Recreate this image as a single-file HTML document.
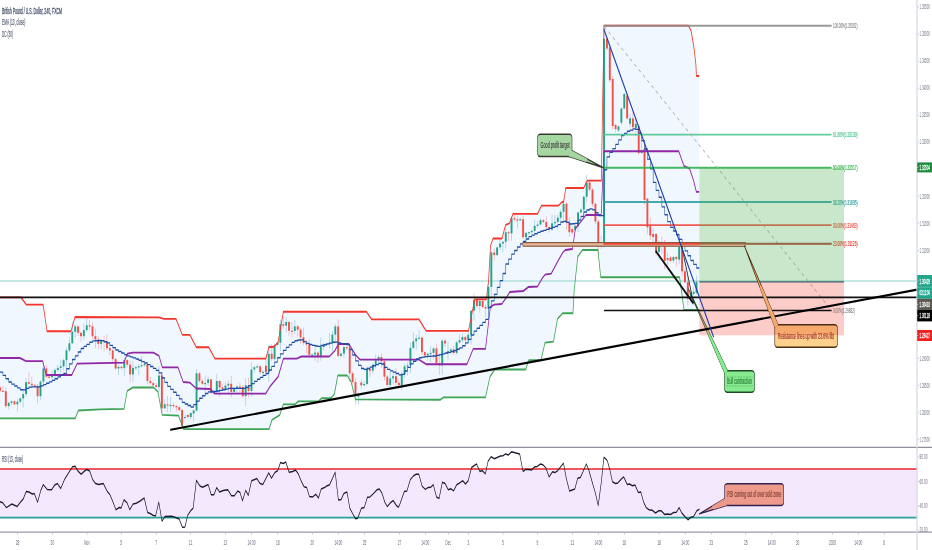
<!DOCTYPE html>
<html lang="en"><head><meta charset="utf-8"><title>GBPUSD chart</title>
<style>html,body{margin:0;padding:0;background:#fff;overflow:hidden}svg text{white-space:pre}</style></head>
<body>
<svg width="932" height="550" viewBox="0 0 932 550" style="display:block;font-family:'Liberation Sans',sans-serif">
<rect width="932" height="550" fill="#fff"/>
<defs><linearGradient id="og" x1="0" y1="0" x2="0" y2="1"><stop offset="0.47" stop-color="#f5a96d"/><stop offset="0.47" stop-color="#fdd08c"/></linearGradient></defs>
<g transform="scale(0.4,1)">
<polygon points="0.0,297.4 52.5,297.4 65.8,304.6 108.0,304.6 117.5,331.2 177.5,331.2 187.5,317.0 397.5,317.3 410.0,318.8 440.0,318.8 456.0,334.9 475.0,334.9 490.8,347.2 521.8,347.2 537.2,358.6 664.5,358.6 672.5,347.0 683.8,347.0 695.0,342.6 708.5,311.7 916.0,311.7 929.2,319.4 1047.5,319.4 1065.0,330.8 1171.2,330.8 1186.8,299.3 1216.0,299.3 1221.5,280.0 1226.2,246.0 1232.5,238.5 1255.0,238.5 1264.0,224.8 1273.5,223.3 1282.5,213.8 1344.0,213.8 1353.5,205.6 1396.2,205.6 1405.0,202.0 1409.0,202.0 1414.5,188.0 1459.2,188.0 1468.0,180.6 1503.2,180.6 1510.0,25.6 1720.8,25.6 1727.5,30.5 1734.2,45.5 1739.8,64.6 1741.0,76.0 1748.0,76.0 1748.8,309.9 1710.0,309.9 1699.0,277.2 1501.8,277.2 1494.8,250.0 1456.2,250.0 1444.5,256.6 1435.5,290.0 1432.5,313.2 1406.8,313.2 1393.8,318.8 1383.8,341.7 1362.5,342.6 1352.5,360.2 1322.0,360.2 1314.2,369.5 1237.0,369.5 1225.0,376.6 1213.8,397.3 1109.0,397.3 1101.2,399.7 888.8,399.4 877.8,382.0 868.0,375.5 844.5,375.5 836.0,394.0 827.5,398.2 804.0,398.2 796.2,401.3 745.8,401.3 737.5,404.4 708.5,404.4 699.2,415.2 680.0,419.8 672.5,429.1 458.8,429.1 446.2,415.6 405.5,414.8 394.8,391.9 383.8,387.5 332.0,387.5 318.2,390.8 310.0,408.8 250.0,409.3 195.8,410.5 188.2,418.3 0.0,418.3" fill="#f0f7fe" />
<line x1="0.00" y1="281.00" x2="2293.00" y2="281.00" stroke="#b2dfd8" stroke-width="1.6" />
<line x1="0.07" y1="385.56" x2="0.07" y2="392.00" stroke="#f2b1bd" stroke-width="1.9" />
<rect x="-2.30" y="387.50" width="4.75" height="3.30" fill="#f0504a" />
<line x1="7.30" y1="385.99" x2="7.30" y2="392.25" stroke="#f2b1bd" stroke-width="1.9" />
<rect x="4.92" y="390.80" width="4.75" height="1.20" fill="#f0504a" />
<line x1="14.53" y1="387.62" x2="14.53" y2="408.30" stroke="#f2b1bd" stroke-width="1.9" />
<rect x="12.15" y="391.20" width="4.75" height="14.90" fill="#f0504a" />
<line x1="21.75" y1="401.77" x2="21.75" y2="409.42" stroke="#a8cde9" stroke-width="1.9" />
<rect x="19.37" y="402.80" width="4.75" height="3.30" fill="#26a387" />
<line x1="28.98" y1="400.29" x2="28.98" y2="405.49" stroke="#a8cde9" stroke-width="1.9" />
<rect x="26.60" y="401.30" width="4.75" height="1.50" fill="#26a387" />
<line x1="36.20" y1="400.26" x2="36.20" y2="405.37" stroke="#f2b1bd" stroke-width="1.9" />
<rect x="33.83" y="401.30" width="4.75" height="3.00" fill="#f0504a" />
<line x1="43.43" y1="399.08" x2="43.43" y2="411.45" stroke="#a8cde9" stroke-width="1.9" />
<rect x="41.05" y="401.70" width="4.75" height="2.60" fill="#26a387" />
<line x1="50.65" y1="397.26" x2="50.65" y2="403.15" stroke="#a8cde9" stroke-width="1.9" />
<rect x="48.28" y="398.40" width="4.75" height="3.30" fill="#26a387" />
<line x1="57.88" y1="389.56" x2="57.88" y2="407.48" stroke="#a8cde9" stroke-width="1.9" />
<rect x="55.50" y="394.10" width="4.75" height="4.30" fill="#26a387" />
<line x1="65.10" y1="378.10" x2="65.10" y2="396.52" stroke="#a8cde9" stroke-width="1.9" />
<rect x="62.73" y="382.10" width="4.75" height="12.00" fill="#26a387" />
<line x1="72.33" y1="372.52" x2="72.33" y2="384.82" stroke="#f2b1bd" stroke-width="1.9" />
<rect x="69.95" y="382.10" width="4.75" height="1.70" fill="#f0504a" />
<line x1="79.55" y1="376.17" x2="79.55" y2="387.05" stroke="#f2b1bd" stroke-width="1.9" />
<rect x="77.18" y="383.80" width="4.75" height="1.50" fill="#f0504a" />
<line x1="86.78" y1="384.11" x2="86.78" y2="386.92" stroke="#f2b1bd" stroke-width="1.9" />
<rect x="84.40" y="385.30" width="4.75" height="1.20" fill="#f0504a" />
<line x1="94.00" y1="383.94" x2="94.00" y2="403.19" stroke="#f2b1bd" stroke-width="1.9" />
<rect x="91.62" y="385.80" width="4.75" height="10.40" fill="#f0504a" />
<line x1="101.23" y1="380.31" x2="101.23" y2="400.24" stroke="#a8cde9" stroke-width="1.9" />
<rect x="98.85" y="381.60" width="4.75" height="14.60" fill="#26a387" />
<line x1="108.45" y1="363.83" x2="108.45" y2="383.85" stroke="#a8cde9" stroke-width="1.9" />
<rect x="106.08" y="368.50" width="4.75" height="13.10" fill="#26a387" />
<line x1="115.68" y1="364.80" x2="115.68" y2="377.64" stroke="#f2b1bd" stroke-width="1.9" />
<rect x="113.30" y="368.50" width="4.75" height="8.10" fill="#f0504a" />
<line x1="122.90" y1="375.57" x2="122.90" y2="378.58" stroke="#f2b1bd" stroke-width="1.9" />
<rect x="120.53" y="376.60" width="4.75" height="1.20" fill="#f0504a" />
<line x1="130.12" y1="370.33" x2="130.12" y2="379.85" stroke="#a8cde9" stroke-width="1.9" />
<rect x="127.75" y="375.50" width="4.75" height="1.70" fill="#26a387" />
<line x1="137.35" y1="368.11" x2="137.35" y2="379.59" stroke="#a8cde9" stroke-width="1.9" />
<rect x="134.97" y="370.00" width="4.75" height="5.50" fill="#26a387" />
<line x1="144.58" y1="365.05" x2="144.58" y2="371.81" stroke="#a8cde9" stroke-width="1.9" />
<rect x="142.20" y="367.90" width="4.75" height="2.10" fill="#26a387" />
<line x1="151.80" y1="359.62" x2="151.80" y2="373.30" stroke="#a8cde9" stroke-width="1.9" />
<rect x="149.43" y="366.30" width="4.75" height="1.60" fill="#26a387" />
<line x1="159.03" y1="358.66" x2="159.03" y2="370.27" stroke="#a8cde9" stroke-width="1.9" />
<rect x="156.65" y="360.20" width="4.75" height="6.10" fill="#26a387" />
<line x1="166.25" y1="346.92" x2="166.25" y2="368.09" stroke="#a8cde9" stroke-width="1.9" />
<rect x="163.88" y="350.40" width="4.75" height="9.80" fill="#26a387" />
<line x1="173.47" y1="337.41" x2="173.47" y2="352.15" stroke="#a8cde9" stroke-width="1.9" />
<rect x="171.10" y="343.20" width="4.75" height="7.20" fill="#26a387" />
<line x1="180.70" y1="322.15" x2="180.70" y2="344.33" stroke="#a8cde9" stroke-width="1.9" />
<rect x="178.32" y="331.80" width="4.75" height="11.40" fill="#26a387" />
<line x1="187.93" y1="323.83" x2="187.93" y2="337.96" stroke="#a8cde9" stroke-width="1.9" />
<rect x="185.55" y="326.40" width="4.75" height="5.40" fill="#26a387" />
<line x1="195.15" y1="325.19" x2="195.15" y2="336.05" stroke="#f2b1bd" stroke-width="1.9" />
<rect x="192.78" y="326.40" width="4.75" height="6.50" fill="#f0504a" />
<line x1="202.38" y1="331.89" x2="202.38" y2="341.22" stroke="#f2b1bd" stroke-width="1.9" />
<rect x="200.00" y="332.90" width="4.75" height="3.30" fill="#f0504a" />
<line x1="209.60" y1="323.84" x2="209.60" y2="340.16" stroke="#a8cde9" stroke-width="1.9" />
<rect x="207.22" y="330.10" width="4.75" height="6.10" fill="#26a387" />
<line x1="216.83" y1="317.40" x2="216.83" y2="331.99" stroke="#a8cde9" stroke-width="1.9" />
<rect x="214.45" y="325.30" width="4.75" height="4.80" fill="#26a387" />
<line x1="224.05" y1="319.95" x2="224.05" y2="330.58" stroke="#f2b1bd" stroke-width="1.9" />
<rect x="221.68" y="325.30" width="4.75" height="1.20" fill="#f0504a" />
<line x1="231.28" y1="322.37" x2="231.28" y2="339.07" stroke="#f2b1bd" stroke-width="1.9" />
<rect x="228.90" y="326.40" width="4.75" height="9.80" fill="#f0504a" />
<line x1="238.50" y1="328.85" x2="238.50" y2="348.53" stroke="#f2b1bd" stroke-width="1.9" />
<rect x="236.12" y="336.20" width="4.75" height="3.30" fill="#f0504a" />
<line x1="245.73" y1="336.48" x2="245.73" y2="348.97" stroke="#f2b1bd" stroke-width="1.9" />
<rect x="243.35" y="339.50" width="4.75" height="4.50" fill="#f0504a" />
<line x1="252.95" y1="339.57" x2="252.95" y2="349.43" stroke="#a8cde9" stroke-width="1.9" />
<rect x="250.58" y="340.60" width="4.75" height="3.40" fill="#26a387" />
<line x1="260.18" y1="335.83" x2="260.18" y2="351.58" stroke="#f2b1bd" stroke-width="1.9" />
<rect x="257.80" y="340.60" width="4.75" height="1.20" fill="#f0504a" />
<line x1="267.40" y1="334.62" x2="267.40" y2="349.93" stroke="#f2b1bd" stroke-width="1.9" />
<rect x="265.03" y="341.70" width="4.75" height="6.50" fill="#f0504a" />
<line x1="274.62" y1="345.86" x2="274.62" y2="355.42" stroke="#f2b1bd" stroke-width="1.9" />
<rect x="272.25" y="348.20" width="4.75" height="2.20" fill="#f0504a" />
<line x1="281.85" y1="349.40" x2="281.85" y2="362.02" stroke="#f2b1bd" stroke-width="1.9" />
<rect x="279.48" y="350.40" width="4.75" height="8.70" fill="#f0504a" />
<line x1="289.08" y1="357.85" x2="289.08" y2="369.62" stroke="#f2b1bd" stroke-width="1.9" />
<rect x="286.70" y="359.10" width="4.75" height="9.40" fill="#f0504a" />
<line x1="296.30" y1="365.77" x2="296.30" y2="374.81" stroke="#a8cde9" stroke-width="1.9" />
<rect x="293.93" y="366.80" width="4.75" height="1.70" fill="#26a387" />
<line x1="303.53" y1="365.65" x2="303.53" y2="369.65" stroke="#f2b1bd" stroke-width="1.9" />
<rect x="301.15" y="366.80" width="4.75" height="1.30" fill="#f0504a" />
<line x1="310.75" y1="357.82" x2="310.75" y2="375.93" stroke="#a8cde9" stroke-width="1.9" />
<rect x="308.38" y="360.20" width="4.75" height="7.90" fill="#26a387" />
<line x1="317.98" y1="359.14" x2="317.98" y2="367.42" stroke="#f2b1bd" stroke-width="1.9" />
<rect x="315.60" y="360.20" width="4.75" height="4.40" fill="#f0504a" />
<line x1="325.20" y1="360.88" x2="325.20" y2="382.42" stroke="#f2b1bd" stroke-width="1.9" />
<rect x="322.83" y="364.60" width="4.75" height="9.80" fill="#f0504a" />
<line x1="332.43" y1="360.86" x2="332.43" y2="382.12" stroke="#a8cde9" stroke-width="1.9" />
<rect x="330.05" y="367.90" width="4.75" height="6.50" fill="#26a387" />
<line x1="339.65" y1="365.50" x2="339.65" y2="370.45" stroke="#a8cde9" stroke-width="1.9" />
<rect x="337.28" y="367.20" width="4.75" height="1.20" fill="#26a387" />
<line x1="346.88" y1="364.14" x2="346.88" y2="375.24" stroke="#a8cde9" stroke-width="1.9" />
<rect x="344.50" y="366.30" width="4.75" height="1.20" fill="#26a387" />
<line x1="354.10" y1="355.94" x2="354.10" y2="367.50" stroke="#a8cde9" stroke-width="1.9" />
<rect x="351.73" y="365.20" width="4.75" height="1.20" fill="#26a387" />
<line x1="361.32" y1="362.82" x2="361.32" y2="366.68" stroke="#a8cde9" stroke-width="1.9" />
<rect x="358.95" y="364.10" width="4.75" height="1.20" fill="#26a387" />
<line x1="368.55" y1="362.61" x2="368.55" y2="384.12" stroke="#f2b1bd" stroke-width="1.9" />
<rect x="366.18" y="364.10" width="4.75" height="16.90" fill="#f0504a" />
<line x1="375.77" y1="376.88" x2="375.77" y2="384.72" stroke="#f2b1bd" stroke-width="1.9" />
<rect x="373.40" y="381.00" width="4.75" height="2.10" fill="#f0504a" />
<line x1="383.00" y1="382.10" x2="383.00" y2="387.88" stroke="#f2b1bd" stroke-width="1.9" />
<rect x="380.63" y="383.10" width="4.75" height="2.20" fill="#f0504a" />
<line x1="390.23" y1="383.07" x2="390.23" y2="390.79" stroke="#f2b1bd" stroke-width="1.9" />
<rect x="387.85" y="385.30" width="4.75" height="1.60" fill="#f0504a" />
<line x1="397.45" y1="366.32" x2="397.45" y2="392.19" stroke="#a8cde9" stroke-width="1.9" />
<rect x="395.08" y="375.50" width="4.75" height="11.40" fill="#26a387" />
<line x1="404.68" y1="372.11" x2="404.68" y2="412.73" stroke="#f2b1bd" stroke-width="1.9" />
<rect x="402.30" y="375.50" width="4.75" height="32.80" fill="#f0504a" />
<line x1="411.90" y1="399.18" x2="411.90" y2="409.33" stroke="#a8cde9" stroke-width="1.9" />
<rect x="409.53" y="404.30" width="4.75" height="4.00" fill="#26a387" />
<line x1="419.12" y1="396.02" x2="419.12" y2="411.68" stroke="#f2b1bd" stroke-width="1.9" />
<rect x="416.75" y="404.30" width="4.75" height="1.20" fill="#f0504a" />
<line x1="426.35" y1="397.12" x2="426.35" y2="411.93" stroke="#a8cde9" stroke-width="1.9" />
<rect x="423.98" y="405.00" width="4.75" height="1.20" fill="#26a387" />
<line x1="433.58" y1="402.61" x2="433.58" y2="408.53" stroke="#f2b1bd" stroke-width="1.9" />
<rect x="431.20" y="405.00" width="4.75" height="1.20" fill="#f0504a" />
<line x1="440.80" y1="405.00" x2="440.80" y2="411.82" stroke="#f2b1bd" stroke-width="1.9" />
<rect x="438.43" y="406.10" width="4.75" height="1.20" fill="#f0504a" />
<line x1="448.03" y1="406.17" x2="448.03" y2="411.04" stroke="#f2b1bd" stroke-width="1.9" />
<rect x="445.65" y="407.20" width="4.75" height="2.80" fill="#f0504a" />
<line x1="455.25" y1="408.61" x2="455.25" y2="427.24" stroke="#f2b1bd" stroke-width="1.9" />
<rect x="452.88" y="410.00" width="4.75" height="16.00" fill="#f0504a" />
<line x1="462.48" y1="414.96" x2="462.48" y2="418.02" stroke="#a8cde9" stroke-width="1.9" />
<rect x="460.10" y="417.00" width="4.75" height="1.20" fill="#26a387" />
<line x1="469.70" y1="414.00" x2="469.70" y2="418.21" stroke="#f2b1bd" stroke-width="1.9" />
<rect x="467.33" y="415.00" width="4.75" height="2.00" fill="#f0504a" />
<line x1="476.93" y1="411.91" x2="476.93" y2="419.19" stroke="#a8cde9" stroke-width="1.9" />
<rect x="474.55" y="413.00" width="4.75" height="4.00" fill="#26a387" />
<line x1="484.15" y1="409.49" x2="484.15" y2="421.38" stroke="#a8cde9" stroke-width="1.9" />
<rect x="481.78" y="410.50" width="4.75" height="3.00" fill="#26a387" />
<line x1="491.38" y1="368.91" x2="491.38" y2="411.70" stroke="#a8cde9" stroke-width="1.9" />
<rect x="489.00" y="373.30" width="4.75" height="37.20" fill="#26a387" />
<line x1="498.60" y1="371.73" x2="498.60" y2="383.09" stroke="#f2b1bd" stroke-width="1.9" />
<rect x="496.23" y="373.30" width="4.75" height="7.70" fill="#f0504a" />
<line x1="505.83" y1="378.81" x2="505.83" y2="384.94" stroke="#f2b1bd" stroke-width="1.9" />
<rect x="503.45" y="381.00" width="4.75" height="2.80" fill="#f0504a" />
<line x1="513.05" y1="375.51" x2="513.05" y2="393.68" stroke="#a8cde9" stroke-width="1.9" />
<rect x="510.68" y="383.00" width="4.75" height="1.20" fill="#26a387" />
<line x1="520.28" y1="376.45" x2="520.28" y2="386.11" stroke="#a8cde9" stroke-width="1.9" />
<rect x="517.90" y="379.40" width="4.75" height="3.60" fill="#26a387" />
<line x1="527.50" y1="378.33" x2="527.50" y2="394.09" stroke="#f2b1bd" stroke-width="1.9" />
<rect x="525.12" y="379.40" width="4.75" height="13.60" fill="#f0504a" />
<line x1="534.73" y1="389.94" x2="534.73" y2="394.63" stroke="#a8cde9" stroke-width="1.9" />
<rect x="532.35" y="392.00" width="4.75" height="1.20" fill="#26a387" />
<line x1="541.95" y1="373.82" x2="541.95" y2="393.23" stroke="#a8cde9" stroke-width="1.9" />
<rect x="539.58" y="381.00" width="4.75" height="11.00" fill="#26a387" />
<line x1="549.18" y1="380.00" x2="549.18" y2="396.64" stroke="#f2b1bd" stroke-width="1.9" />
<rect x="546.80" y="381.00" width="4.75" height="6.50" fill="#f0504a" />
<line x1="556.40" y1="383.99" x2="556.40" y2="390.19" stroke="#f2b1bd" stroke-width="1.9" />
<rect x="554.03" y="387.50" width="4.75" height="1.50" fill="#f0504a" />
<line x1="563.62" y1="381.84" x2="563.62" y2="390.01" stroke="#a8cde9" stroke-width="1.9" />
<rect x="561.25" y="385.50" width="4.75" height="3.50" fill="#26a387" />
<line x1="570.85" y1="380.29" x2="570.85" y2="395.12" stroke="#a8cde9" stroke-width="1.9" />
<rect x="568.48" y="383.80" width="4.75" height="1.70" fill="#26a387" />
<line x1="578.08" y1="376.09" x2="578.08" y2="397.26" stroke="#f2b1bd" stroke-width="1.9" />
<rect x="575.70" y="383.80" width="4.75" height="8.10" fill="#f0504a" />
<line x1="585.30" y1="386.89" x2="585.30" y2="394.11" stroke="#a8cde9" stroke-width="1.9" />
<rect x="582.93" y="388.50" width="4.75" height="3.40" fill="#26a387" />
<line x1="592.53" y1="385.25" x2="592.53" y2="394.86" stroke="#a8cde9" stroke-width="1.9" />
<rect x="590.15" y="386.50" width="4.75" height="2.00" fill="#26a387" />
<line x1="599.75" y1="382.95" x2="599.75" y2="393.46" stroke="#f2b1bd" stroke-width="1.9" />
<rect x="597.38" y="386.50" width="4.75" height="1.20" fill="#f0504a" />
<line x1="606.98" y1="385.02" x2="606.98" y2="397.65" stroke="#f2b1bd" stroke-width="1.9" />
<rect x="604.60" y="387.00" width="4.75" height="9.20" fill="#f0504a" />
<line x1="614.20" y1="378.37" x2="614.20" y2="405.93" stroke="#a8cde9" stroke-width="1.9" />
<rect x="611.83" y="385.30" width="4.75" height="10.90" fill="#26a387" />
<line x1="621.43" y1="377.76" x2="621.43" y2="397.65" stroke="#f2b1bd" stroke-width="1.9" />
<rect x="619.05" y="385.30" width="4.75" height="5.50" fill="#f0504a" />
<line x1="628.65" y1="362.37" x2="628.65" y2="396.73" stroke="#a8cde9" stroke-width="1.9" />
<rect x="626.28" y="369.40" width="4.75" height="21.40" fill="#26a387" />
<line x1="635.88" y1="365.74" x2="635.88" y2="372.81" stroke="#a8cde9" stroke-width="1.9" />
<rect x="633.50" y="367.20" width="4.75" height="2.20" fill="#26a387" />
<line x1="643.10" y1="364.16" x2="643.10" y2="368.21" stroke="#a8cde9" stroke-width="1.9" />
<rect x="640.73" y="366.30" width="4.75" height="1.20" fill="#26a387" />
<line x1="650.33" y1="365.29" x2="650.33" y2="373.90" stroke="#f2b1bd" stroke-width="1.9" />
<rect x="647.95" y="366.30" width="4.75" height="5.90" fill="#f0504a" />
<line x1="657.55" y1="370.20" x2="657.55" y2="377.52" stroke="#a8cde9" stroke-width="1.9" />
<rect x="655.17" y="371.80" width="4.75" height="1.20" fill="#26a387" />
<line x1="664.77" y1="356.47" x2="664.77" y2="375.00" stroke="#f2b1bd" stroke-width="1.9" />
<rect x="662.40" y="365.70" width="4.75" height="6.50" fill="#f0504a" />
<line x1="672.00" y1="344.80" x2="672.00" y2="381.99" stroke="#a8cde9" stroke-width="1.9" />
<rect x="669.62" y="353.70" width="4.75" height="18.50" fill="#26a387" />
<line x1="679.23" y1="344.49" x2="679.23" y2="361.30" stroke="#f2b1bd" stroke-width="1.9" />
<rect x="676.85" y="353.70" width="4.75" height="5.40" fill="#f0504a" />
<line x1="686.45" y1="343.56" x2="686.45" y2="360.56" stroke="#a8cde9" stroke-width="1.9" />
<rect x="684.08" y="345.00" width="4.75" height="14.10" fill="#26a387" />
<line x1="693.67" y1="341.45" x2="693.67" y2="346.38" stroke="#a8cde9" stroke-width="1.9" />
<rect x="691.30" y="342.80" width="4.75" height="2.20" fill="#26a387" />
<line x1="700.90" y1="319.69" x2="700.90" y2="351.09" stroke="#a8cde9" stroke-width="1.9" />
<rect x="698.52" y="324.20" width="4.75" height="18.60" fill="#26a387" />
<line x1="708.12" y1="316.84" x2="708.12" y2="328.77" stroke="#f2b1bd" stroke-width="1.9" />
<rect x="705.75" y="324.20" width="4.75" height="1.50" fill="#f0504a" />
<line x1="715.35" y1="317.16" x2="715.35" y2="332.45" stroke="#a8cde9" stroke-width="1.9" />
<rect x="712.98" y="322.00" width="4.75" height="3.70" fill="#26a387" />
<line x1="722.57" y1="320.94" x2="722.57" y2="335.63" stroke="#f2b1bd" stroke-width="1.9" />
<rect x="720.20" y="322.00" width="4.75" height="8.70" fill="#f0504a" />
<line x1="729.80" y1="322.25" x2="729.80" y2="337.51" stroke="#f2b1bd" stroke-width="1.9" />
<rect x="727.42" y="330.70" width="4.75" height="1.20" fill="#f0504a" />
<line x1="737.02" y1="320.34" x2="737.02" y2="334.06" stroke="#a8cde9" stroke-width="1.9" />
<rect x="734.65" y="326.40" width="4.75" height="4.60" fill="#26a387" />
<line x1="744.25" y1="325.11" x2="744.25" y2="336.30" stroke="#f2b1bd" stroke-width="1.9" />
<rect x="741.88" y="326.40" width="4.75" height="3.30" fill="#f0504a" />
<line x1="751.47" y1="327.70" x2="751.47" y2="344.07" stroke="#f2b1bd" stroke-width="1.9" />
<rect x="749.10" y="329.70" width="4.75" height="7.60" fill="#f0504a" />
<line x1="758.70" y1="327.80" x2="758.70" y2="345.21" stroke="#f2b1bd" stroke-width="1.9" />
<rect x="756.32" y="337.30" width="4.75" height="5.50" fill="#f0504a" />
<line x1="765.92" y1="340.35" x2="765.92" y2="353.57" stroke="#f2b1bd" stroke-width="1.9" />
<rect x="763.55" y="342.80" width="4.75" height="1.70" fill="#f0504a" />
<line x1="773.15" y1="338.77" x2="773.15" y2="356.06" stroke="#f2b1bd" stroke-width="1.9" />
<rect x="770.77" y="344.50" width="4.75" height="10.30" fill="#f0504a" />
<line x1="780.38" y1="353.35" x2="780.38" y2="356.01" stroke="#a8cde9" stroke-width="1.9" />
<rect x="778.00" y="354.50" width="4.75" height="1.20" fill="#26a387" />
<line x1="787.60" y1="344.23" x2="787.60" y2="361.35" stroke="#a8cde9" stroke-width="1.9" />
<rect x="785.22" y="352.60" width="4.75" height="1.90" fill="#26a387" />
<line x1="794.83" y1="351.41" x2="794.83" y2="363.05" stroke="#f2b1bd" stroke-width="1.9" />
<rect x="792.45" y="352.60" width="4.75" height="3.30" fill="#f0504a" />
<line x1="802.05" y1="337.45" x2="802.05" y2="360.79" stroke="#a8cde9" stroke-width="1.9" />
<rect x="799.67" y="347.10" width="4.75" height="8.80" fill="#26a387" />
<line x1="809.27" y1="342.89" x2="809.27" y2="350.81" stroke="#a8cde9" stroke-width="1.9" />
<rect x="806.90" y="345.00" width="4.75" height="2.10" fill="#26a387" />
<line x1="816.50" y1="342.65" x2="816.50" y2="346.00" stroke="#a8cde9" stroke-width="1.9" />
<rect x="814.12" y="343.80" width="4.75" height="1.20" fill="#26a387" />
<line x1="823.73" y1="333.32" x2="823.73" y2="348.60" stroke="#a8cde9" stroke-width="1.9" />
<rect x="821.35" y="342.80" width="4.75" height="1.20" fill="#26a387" />
<line x1="830.95" y1="331.00" x2="830.95" y2="351.64" stroke="#a8cde9" stroke-width="1.9" />
<rect x="828.58" y="334.50" width="4.75" height="8.30" fill="#26a387" />
<line x1="838.17" y1="323.71" x2="838.17" y2="342.34" stroke="#a8cde9" stroke-width="1.9" />
<rect x="835.80" y="326.40" width="4.75" height="8.10" fill="#26a387" />
<line x1="845.40" y1="319.26" x2="845.40" y2="357.30" stroke="#f2b1bd" stroke-width="1.9" />
<rect x="843.02" y="326.40" width="4.75" height="29.50" fill="#f0504a" />
<line x1="852.62" y1="352.13" x2="852.62" y2="357.67" stroke="#a8cde9" stroke-width="1.9" />
<rect x="850.25" y="353.70" width="4.75" height="2.20" fill="#26a387" />
<line x1="859.85" y1="345.58" x2="859.85" y2="357.80" stroke="#a8cde9" stroke-width="1.9" />
<rect x="857.48" y="347.10" width="4.75" height="6.60" fill="#26a387" />
<line x1="867.07" y1="345.49" x2="867.07" y2="350.78" stroke="#f2b1bd" stroke-width="1.9" />
<rect x="864.70" y="347.10" width="4.75" height="1.20" fill="#f0504a" />
<line x1="874.30" y1="347.05" x2="874.30" y2="381.75" stroke="#f2b1bd" stroke-width="1.9" />
<rect x="871.92" y="348.20" width="4.75" height="25.10" fill="#f0504a" />
<line x1="881.53" y1="371.17" x2="881.53" y2="384.99" stroke="#f2b1bd" stroke-width="1.9" />
<rect x="879.15" y="373.30" width="4.75" height="8.80" fill="#f0504a" />
<line x1="888.75" y1="378.04" x2="888.75" y2="404.56" stroke="#f2b1bd" stroke-width="1.9" />
<rect x="886.38" y="382.10" width="4.75" height="14.10" fill="#f0504a" />
<line x1="895.97" y1="392.91" x2="895.97" y2="404.58" stroke="#a8cde9" stroke-width="1.9" />
<rect x="893.60" y="395.50" width="4.75" height="1.20" fill="#26a387" />
<line x1="903.20" y1="379.24" x2="903.20" y2="388.85" stroke="#f2b1bd" stroke-width="1.9" />
<rect x="900.82" y="382.50" width="4.75" height="2.80" fill="#f0504a" />
<line x1="910.43" y1="380.53" x2="910.43" y2="386.30" stroke="#a8cde9" stroke-width="1.9" />
<rect x="908.05" y="384.00" width="4.75" height="1.30" fill="#26a387" />
<line x1="917.65" y1="366.26" x2="917.65" y2="385.30" stroke="#a8cde9" stroke-width="1.9" />
<rect x="915.28" y="369.00" width="4.75" height="15.00" fill="#26a387" />
<line x1="924.88" y1="368.00" x2="924.88" y2="377.45" stroke="#f2b1bd" stroke-width="1.9" />
<rect x="922.50" y="369.00" width="4.75" height="1.70" fill="#f0504a" />
<line x1="932.10" y1="363.33" x2="932.10" y2="373.72" stroke="#a8cde9" stroke-width="1.9" />
<rect x="929.72" y="364.60" width="4.75" height="6.10" fill="#26a387" />
<line x1="939.32" y1="354.47" x2="939.32" y2="368.39" stroke="#a8cde9" stroke-width="1.9" />
<rect x="936.95" y="360.20" width="4.75" height="4.40" fill="#26a387" />
<line x1="946.55" y1="355.04" x2="946.55" y2="363.62" stroke="#a8cde9" stroke-width="1.9" />
<rect x="944.18" y="357.00" width="4.75" height="3.20" fill="#26a387" />
<line x1="953.77" y1="353.22" x2="953.77" y2="367.84" stroke="#f2b1bd" stroke-width="1.9" />
<rect x="951.40" y="357.00" width="4.75" height="4.30" fill="#f0504a" />
<line x1="961.00" y1="360.20" x2="961.00" y2="380.43" stroke="#f2b1bd" stroke-width="1.9" />
<rect x="958.62" y="361.30" width="4.75" height="15.30" fill="#f0504a" />
<line x1="968.22" y1="375.04" x2="968.22" y2="386.69" stroke="#f2b1bd" stroke-width="1.9" />
<rect x="965.85" y="376.60" width="4.75" height="8.40" fill="#f0504a" />
<line x1="975.45" y1="372.03" x2="975.45" y2="388.32" stroke="#a8cde9" stroke-width="1.9" />
<rect x="973.08" y="378.40" width="4.75" height="6.60" fill="#26a387" />
<line x1="982.67" y1="372.36" x2="982.67" y2="384.60" stroke="#a8cde9" stroke-width="1.9" />
<rect x="980.30" y="376.20" width="4.75" height="2.20" fill="#26a387" />
<line x1="989.90" y1="367.71" x2="989.90" y2="385.57" stroke="#f2b1bd" stroke-width="1.9" />
<rect x="987.52" y="376.20" width="4.75" height="6.60" fill="#f0504a" />
<line x1="997.12" y1="378.42" x2="997.12" y2="388.30" stroke="#f2b1bd" stroke-width="1.9" />
<rect x="994.75" y="382.80" width="4.75" height="2.20" fill="#f0504a" />
<line x1="1004.35" y1="370.74" x2="1004.35" y2="390.32" stroke="#a8cde9" stroke-width="1.9" />
<rect x="1001.98" y="374.10" width="4.75" height="10.90" fill="#26a387" />
<line x1="1011.58" y1="363.56" x2="1011.58" y2="377.66" stroke="#a8cde9" stroke-width="1.9" />
<rect x="1009.20" y="366.40" width="4.75" height="7.70" fill="#26a387" />
<line x1="1018.80" y1="362.24" x2="1018.80" y2="375.38" stroke="#a8cde9" stroke-width="1.9" />
<rect x="1016.42" y="365.30" width="4.75" height="1.20" fill="#26a387" />
<line x1="1026.02" y1="342.50" x2="1026.02" y2="373.21" stroke="#a8cde9" stroke-width="1.9" />
<rect x="1023.65" y="347.90" width="4.75" height="17.40" fill="#26a387" />
<line x1="1033.25" y1="332.31" x2="1033.25" y2="349.51" stroke="#a8cde9" stroke-width="1.9" />
<rect x="1030.88" y="341.30" width="4.75" height="6.60" fill="#26a387" />
<line x1="1040.47" y1="334.68" x2="1040.47" y2="350.31" stroke="#a8cde9" stroke-width="1.9" />
<rect x="1038.10" y="338.50" width="4.75" height="2.80" fill="#26a387" />
<line x1="1047.70" y1="330.25" x2="1047.70" y2="339.67" stroke="#a8cde9" stroke-width="1.9" />
<rect x="1045.33" y="337.60" width="4.75" height="1.20" fill="#26a387" />
<line x1="1054.92" y1="336.47" x2="1054.92" y2="354.96" stroke="#f2b1bd" stroke-width="1.9" />
<rect x="1052.55" y="337.60" width="4.75" height="14.60" fill="#f0504a" />
<line x1="1062.15" y1="351.15" x2="1062.15" y2="357.02" stroke="#f2b1bd" stroke-width="1.9" />
<rect x="1059.78" y="352.20" width="4.75" height="3.30" fill="#f0504a" />
<line x1="1069.38" y1="352.75" x2="1069.38" y2="360.53" stroke="#a8cde9" stroke-width="1.9" />
<rect x="1067.00" y="353.80" width="4.75" height="1.70" fill="#26a387" />
<line x1="1076.60" y1="346.37" x2="1076.60" y2="362.04" stroke="#a8cde9" stroke-width="1.9" />
<rect x="1074.22" y="352.90" width="4.75" height="1.20" fill="#26a387" />
<line x1="1083.82" y1="347.29" x2="1083.82" y2="358.52" stroke="#a8cde9" stroke-width="1.9" />
<rect x="1081.45" y="348.50" width="4.75" height="4.40" fill="#26a387" />
<line x1="1091.05" y1="343.58" x2="1091.05" y2="364.28" stroke="#f2b1bd" stroke-width="1.9" />
<rect x="1088.68" y="348.50" width="4.75" height="14.60" fill="#f0504a" />
<line x1="1098.28" y1="355.09" x2="1098.28" y2="374.73" stroke="#f2b1bd" stroke-width="1.9" />
<rect x="1095.90" y="363.10" width="4.75" height="2.20" fill="#f0504a" />
<line x1="1105.50" y1="339.27" x2="1105.50" y2="374.47" stroke="#a8cde9" stroke-width="1.9" />
<rect x="1103.12" y="340.70" width="4.75" height="24.60" fill="#26a387" />
<line x1="1112.72" y1="338.27" x2="1112.72" y2="346.64" stroke="#f2b1bd" stroke-width="1.9" />
<rect x="1110.35" y="340.70" width="4.75" height="2.80" fill="#f0504a" />
<line x1="1119.95" y1="341.28" x2="1119.95" y2="360.54" stroke="#a8cde9" stroke-width="1.9" />
<rect x="1117.58" y="351.10" width="4.75" height="2.20" fill="#26a387" />
<line x1="1127.17" y1="348.17" x2="1127.17" y2="353.78" stroke="#a8cde9" stroke-width="1.9" />
<rect x="1124.80" y="349.40" width="4.75" height="1.70" fill="#26a387" />
<line x1="1134.40" y1="346.01" x2="1134.40" y2="354.93" stroke="#f2b1bd" stroke-width="1.9" />
<rect x="1132.03" y="349.40" width="4.75" height="3.50" fill="#f0504a" />
<line x1="1141.62" y1="341.06" x2="1141.62" y2="354.81" stroke="#a8cde9" stroke-width="1.9" />
<rect x="1139.25" y="342.40" width="4.75" height="10.50" fill="#26a387" />
<line x1="1148.85" y1="334.51" x2="1148.85" y2="343.40" stroke="#a8cde9" stroke-width="1.9" />
<rect x="1146.48" y="340.20" width="4.75" height="2.20" fill="#26a387" />
<line x1="1156.08" y1="333.14" x2="1156.08" y2="342.95" stroke="#a8cde9" stroke-width="1.9" />
<rect x="1153.70" y="336.90" width="4.75" height="3.30" fill="#26a387" />
<line x1="1163.30" y1="335.90" x2="1163.30" y2="342.19" stroke="#f2b1bd" stroke-width="1.9" />
<rect x="1160.92" y="336.90" width="4.75" height="3.30" fill="#f0504a" />
<line x1="1170.52" y1="330.30" x2="1170.52" y2="343.56" stroke="#a8cde9" stroke-width="1.9" />
<rect x="1168.15" y="334.80" width="4.75" height="5.40" fill="#26a387" />
<line x1="1177.75" y1="309.66" x2="1177.75" y2="344.53" stroke="#a8cde9" stroke-width="1.9" />
<rect x="1175.38" y="310.70" width="4.75" height="24.10" fill="#26a387" />
<line x1="1184.97" y1="293.21" x2="1184.97" y2="320.20" stroke="#a8cde9" stroke-width="1.9" />
<rect x="1182.60" y="299.80" width="4.75" height="10.90" fill="#26a387" />
<line x1="1192.20" y1="298.70" x2="1192.20" y2="307.63" stroke="#f2b1bd" stroke-width="1.9" />
<rect x="1189.83" y="299.80" width="4.75" height="6.20" fill="#f0504a" />
<line x1="1199.42" y1="299.99" x2="1199.42" y2="312.46" stroke="#a8cde9" stroke-width="1.9" />
<rect x="1197.05" y="301.00" width="4.75" height="5.00" fill="#26a387" />
<line x1="1206.65" y1="299.34" x2="1206.65" y2="308.15" stroke="#f2b1bd" stroke-width="1.9" />
<rect x="1204.27" y="301.00" width="4.75" height="6.00" fill="#f0504a" />
<line x1="1213.88" y1="304.40" x2="1213.88" y2="316.98" stroke="#f2b1bd" stroke-width="1.9" />
<rect x="1211.50" y="307.00" width="4.75" height="1.50" fill="#f0504a" />
<line x1="1221.10" y1="279.86" x2="1221.10" y2="310.10" stroke="#a8cde9" stroke-width="1.9" />
<rect x="1218.72" y="286.90" width="4.75" height="21.60" fill="#26a387" />
<line x1="1228.33" y1="251.30" x2="1228.33" y2="295.50" stroke="#a8cde9" stroke-width="1.9" />
<rect x="1225.95" y="252.50" width="4.75" height="34.40" fill="#26a387" />
<line x1="1235.55" y1="248.57" x2="1235.55" y2="260.52" stroke="#f2b1bd" stroke-width="1.9" />
<rect x="1233.17" y="252.50" width="4.75" height="2.60" fill="#f0504a" />
<line x1="1242.78" y1="246.33" x2="1242.78" y2="256.13" stroke="#a8cde9" stroke-width="1.9" />
<rect x="1240.40" y="247.40" width="4.75" height="7.70" fill="#26a387" />
<line x1="1250.00" y1="238.34" x2="1250.00" y2="250.03" stroke="#a8cde9" stroke-width="1.9" />
<rect x="1247.62" y="243.60" width="4.75" height="3.80" fill="#26a387" />
<line x1="1257.22" y1="240.75" x2="1257.22" y2="252.52" stroke="#a8cde9" stroke-width="1.9" />
<rect x="1254.85" y="241.80" width="4.75" height="1.80" fill="#26a387" />
<line x1="1264.45" y1="227.58" x2="1264.45" y2="248.58" stroke="#a8cde9" stroke-width="1.9" />
<rect x="1262.08" y="232.20" width="4.75" height="9.60" fill="#26a387" />
<line x1="1271.67" y1="231.14" x2="1271.67" y2="241.00" stroke="#f2b1bd" stroke-width="1.9" />
<rect x="1269.30" y="232.20" width="4.75" height="1.20" fill="#f0504a" />
<line x1="1278.90" y1="217.16" x2="1278.90" y2="241.10" stroke="#a8cde9" stroke-width="1.9" />
<rect x="1276.53" y="218.20" width="4.75" height="15.20" fill="#26a387" />
<line x1="1286.12" y1="215.35" x2="1286.12" y2="221.44" stroke="#f2b1bd" stroke-width="1.9" />
<rect x="1283.75" y="218.20" width="4.75" height="1.20" fill="#f0504a" />
<line x1="1293.35" y1="215.65" x2="1293.35" y2="228.43" stroke="#f2b1bd" stroke-width="1.9" />
<rect x="1290.97" y="219.40" width="4.75" height="1.20" fill="#f0504a" />
<line x1="1300.58" y1="217.55" x2="1300.58" y2="220.85" stroke="#a8cde9" stroke-width="1.9" />
<rect x="1298.20" y="219.20" width="4.75" height="1.20" fill="#26a387" />
<line x1="1307.80" y1="215.70" x2="1307.80" y2="238.81" stroke="#f2b1bd" stroke-width="1.9" />
<rect x="1305.42" y="219.20" width="4.75" height="18.10" fill="#f0504a" />
<line x1="1315.03" y1="231.79" x2="1315.03" y2="238.53" stroke="#a8cde9" stroke-width="1.9" />
<rect x="1312.65" y="232.90" width="4.75" height="4.40" fill="#26a387" />
<line x1="1322.25" y1="231.18" x2="1322.25" y2="234.27" stroke="#a8cde9" stroke-width="1.9" />
<rect x="1319.87" y="232.20" width="4.75" height="1.20" fill="#26a387" />
<line x1="1329.47" y1="229.02" x2="1329.47" y2="234.04" stroke="#a8cde9" stroke-width="1.9" />
<rect x="1327.10" y="230.90" width="4.75" height="1.30" fill="#26a387" />
<line x1="1336.70" y1="219.61" x2="1336.70" y2="232.66" stroke="#a8cde9" stroke-width="1.9" />
<rect x="1334.32" y="225.80" width="4.75" height="5.10" fill="#26a387" />
<line x1="1343.93" y1="221.25" x2="1343.93" y2="227.08" stroke="#a8cde9" stroke-width="1.9" />
<rect x="1341.55" y="224.50" width="4.75" height="1.30" fill="#26a387" />
<line x1="1351.15" y1="218.12" x2="1351.15" y2="225.50" stroke="#a8cde9" stroke-width="1.9" />
<rect x="1348.78" y="220.20" width="4.75" height="4.30" fill="#26a387" />
<line x1="1358.38" y1="218.64" x2="1358.38" y2="223.00" stroke="#f2b1bd" stroke-width="1.9" />
<rect x="1356.00" y="220.20" width="4.75" height="1.80" fill="#f0504a" />
<line x1="1365.60" y1="216.16" x2="1365.60" y2="230.83" stroke="#f2b1bd" stroke-width="1.9" />
<rect x="1363.22" y="222.00" width="4.75" height="5.10" fill="#f0504a" />
<line x1="1372.83" y1="225.78" x2="1372.83" y2="232.63" stroke="#f2b1bd" stroke-width="1.9" />
<rect x="1370.45" y="227.10" width="4.75" height="2.50" fill="#f0504a" />
<line x1="1380.05" y1="214.44" x2="1380.05" y2="230.70" stroke="#a8cde9" stroke-width="1.9" />
<rect x="1377.67" y="223.30" width="4.75" height="6.30" fill="#26a387" />
<line x1="1387.27" y1="214.96" x2="1387.27" y2="225.98" stroke="#a8cde9" stroke-width="1.9" />
<rect x="1384.90" y="222.00" width="4.75" height="1.30" fill="#26a387" />
<line x1="1394.50" y1="214.49" x2="1394.50" y2="229.27" stroke="#a8cde9" stroke-width="1.9" />
<rect x="1392.12" y="217.70" width="4.75" height="4.30" fill="#26a387" />
<line x1="1401.72" y1="209.41" x2="1401.72" y2="221.01" stroke="#a8cde9" stroke-width="1.9" />
<rect x="1399.35" y="211.80" width="4.75" height="5.90" fill="#26a387" />
<line x1="1408.95" y1="198.54" x2="1408.95" y2="221.49" stroke="#a8cde9" stroke-width="1.9" />
<rect x="1406.58" y="203.80" width="4.75" height="8.00" fill="#26a387" />
<line x1="1416.18" y1="201.74" x2="1416.18" y2="229.93" stroke="#f2b1bd" stroke-width="1.9" />
<rect x="1413.80" y="203.80" width="4.75" height="18.90" fill="#f0504a" />
<line x1="1423.40" y1="217.20" x2="1423.40" y2="236.84" stroke="#f2b1bd" stroke-width="1.9" />
<rect x="1421.02" y="222.70" width="4.75" height="9.50" fill="#f0504a" />
<line x1="1430.62" y1="226.53" x2="1430.62" y2="234.59" stroke="#f2b1bd" stroke-width="1.9" />
<rect x="1428.25" y="229.00" width="4.75" height="3.50" fill="#f0504a" />
<line x1="1437.85" y1="224.77" x2="1437.85" y2="230.95" stroke="#a8cde9" stroke-width="1.9" />
<rect x="1435.47" y="225.80" width="4.75" height="4.00" fill="#26a387" />
<line x1="1445.07" y1="211.45" x2="1445.07" y2="232.24" stroke="#a8cde9" stroke-width="1.9" />
<rect x="1442.70" y="212.50" width="4.75" height="13.80" fill="#26a387" />
<line x1="1452.30" y1="208.11" x2="1452.30" y2="213.74" stroke="#a8cde9" stroke-width="1.9" />
<rect x="1449.92" y="209.70" width="4.75" height="2.80" fill="#26a387" />
<line x1="1459.52" y1="195.64" x2="1459.52" y2="217.07" stroke="#a8cde9" stroke-width="1.9" />
<rect x="1457.15" y="196.70" width="4.75" height="13.00" fill="#26a387" />
<line x1="1466.75" y1="174.68" x2="1466.75" y2="201.75" stroke="#a8cde9" stroke-width="1.9" />
<rect x="1464.38" y="182.50" width="4.75" height="14.20" fill="#26a387" />
<line x1="1473.98" y1="180.78" x2="1473.98" y2="191.13" stroke="#f2b1bd" stroke-width="1.9" />
<rect x="1471.60" y="182.50" width="4.75" height="7.10" fill="#f0504a" />
<line x1="1481.20" y1="187.83" x2="1481.20" y2="206.70" stroke="#f2b1bd" stroke-width="1.9" />
<rect x="1478.82" y="189.60" width="4.75" height="14.20" fill="#f0504a" />
<line x1="1488.42" y1="202.58" x2="1488.42" y2="224.29" stroke="#f2b1bd" stroke-width="1.9" />
<rect x="1486.05" y="203.80" width="4.75" height="17.70" fill="#f0504a" />
<line x1="1495.65" y1="219.88" x2="1495.65" y2="254.53" stroke="#f2b1bd" stroke-width="1.9" />
<rect x="1493.27" y="221.50" width="4.75" height="23.70" fill="#f0504a" />
<line x1="1502.88" y1="235.49" x2="1502.88" y2="248.89" stroke="#a8cde9" stroke-width="1.9" />
<rect x="1500.50" y="245.00" width="4.75" height="1.20" fill="#26a387" />
<line x1="1510.10" y1="26.70" x2="1510.10" y2="248.00" stroke="#a8cde9" stroke-width="1.9" />
<rect x="1507.72" y="38.70" width="4.75" height="206.30" fill="#26a387" />
<line x1="1517.32" y1="36.84" x2="1517.32" y2="50.64" stroke="#f2b1bd" stroke-width="1.9" />
<rect x="1514.95" y="38.70" width="4.75" height="9.80" fill="#f0504a" />
<line x1="1524.55" y1="46.50" x2="1524.55" y2="82.51" stroke="#f2b1bd" stroke-width="1.9" />
<rect x="1522.17" y="47.50" width="4.75" height="32.70" fill="#f0504a" />
<line x1="1531.78" y1="75.97" x2="1531.78" y2="129.27" stroke="#f2b1bd" stroke-width="1.9" />
<rect x="1529.40" y="79.00" width="4.75" height="47.00" fill="#f0504a" />
<line x1="1539.00" y1="123.64" x2="1539.00" y2="132.29" stroke="#f2b1bd" stroke-width="1.9" />
<rect x="1536.62" y="125.00" width="4.75" height="4.00" fill="#f0504a" />
<line x1="1546.22" y1="125.40" x2="1546.22" y2="132.03" stroke="#a8cde9" stroke-width="1.9" />
<rect x="1543.85" y="126.40" width="4.75" height="4.00" fill="#26a387" />
<line x1="1553.45" y1="107.43" x2="1553.45" y2="125.14" stroke="#a8cde9" stroke-width="1.9" />
<rect x="1551.07" y="108.50" width="4.75" height="14.20" fill="#26a387" />
<line x1="1560.67" y1="92.98" x2="1560.67" y2="109.50" stroke="#a8cde9" stroke-width="1.9" />
<rect x="1558.30" y="94.00" width="4.75" height="14.50" fill="#26a387" />
<line x1="1567.90" y1="93.67" x2="1567.90" y2="119.89" stroke="#f2b1bd" stroke-width="1.9" />
<rect x="1565.52" y="95.50" width="4.75" height="22.90" fill="#f0504a" />
<line x1="1575.12" y1="114.31" x2="1575.12" y2="127.32" stroke="#a8cde9" stroke-width="1.9" />
<rect x="1572.75" y="118.40" width="4.75" height="5.40" fill="#26a387" />
<line x1="1582.35" y1="112.33" x2="1582.35" y2="131.99" stroke="#f2b1bd" stroke-width="1.9" />
<rect x="1579.97" y="118.40" width="4.75" height="8.70" fill="#f0504a" />
<line x1="1589.58" y1="118.19" x2="1589.58" y2="136.16" stroke="#a8cde9" stroke-width="1.9" />
<rect x="1587.20" y="123.80" width="4.75" height="4.40" fill="#26a387" />
<line x1="1596.80" y1="123.63" x2="1596.80" y2="154.96" stroke="#f2b1bd" stroke-width="1.9" />
<rect x="1594.42" y="126.00" width="4.75" height="27.00" fill="#f0504a" />
<line x1="1604.03" y1="140.27" x2="1604.03" y2="154.20" stroke="#a8cde9" stroke-width="1.9" />
<rect x="1601.65" y="150.00" width="4.75" height="3.00" fill="#26a387" />
<line x1="1611.25" y1="143.28" x2="1611.25" y2="204.72" stroke="#f2b1bd" stroke-width="1.9" />
<rect x="1608.88" y="149.00" width="4.75" height="51.00" fill="#f0504a" />
<line x1="1618.47" y1="197.68" x2="1618.47" y2="234.58" stroke="#f2b1bd" stroke-width="1.9" />
<rect x="1616.10" y="198.70" width="4.75" height="28.60" fill="#f0504a" />
<line x1="1625.70" y1="217.84" x2="1625.70" y2="240.04" stroke="#f2b1bd" stroke-width="1.9" />
<rect x="1623.32" y="226.00" width="4.75" height="9.50" fill="#f0504a" />
<line x1="1632.92" y1="228.15" x2="1632.92" y2="243.94" stroke="#f2b1bd" stroke-width="1.9" />
<rect x="1630.55" y="234.00" width="4.75" height="3.00" fill="#f0504a" />
<line x1="1640.15" y1="232.83" x2="1640.15" y2="255.47" stroke="#f2b1bd" stroke-width="1.9" />
<rect x="1637.77" y="234.00" width="4.75" height="18.00" fill="#f0504a" />
<line x1="1647.38" y1="240.41" x2="1647.38" y2="259.27" stroke="#a8cde9" stroke-width="1.9" />
<rect x="1645.00" y="243.70" width="4.75" height="8.30" fill="#26a387" />
<line x1="1654.60" y1="236.87" x2="1654.60" y2="253.15" stroke="#f2b1bd" stroke-width="1.9" />
<rect x="1652.22" y="243.70" width="4.75" height="2.30" fill="#f0504a" />
<line x1="1661.83" y1="239.93" x2="1661.83" y2="269.17" stroke="#f2b1bd" stroke-width="1.9" />
<rect x="1659.45" y="244.00" width="4.75" height="17.00" fill="#f0504a" />
<line x1="1669.05" y1="252.80" x2="1669.05" y2="265.33" stroke="#f2b1bd" stroke-width="1.9" />
<rect x="1666.67" y="258.00" width="4.75" height="2.00" fill="#f0504a" />
<line x1="1676.28" y1="256.02" x2="1676.28" y2="262.01" stroke="#f2b1bd" stroke-width="1.9" />
<rect x="1673.90" y="257.50" width="4.75" height="3.50" fill="#f0504a" />
<line x1="1683.50" y1="255.84" x2="1683.50" y2="262.67" stroke="#a8cde9" stroke-width="1.9" />
<rect x="1681.12" y="257.00" width="4.75" height="3.50" fill="#26a387" />
<line x1="1690.72" y1="255.90" x2="1690.72" y2="266.29" stroke="#f2b1bd" stroke-width="1.9" />
<rect x="1688.35" y="257.00" width="4.75" height="2.00" fill="#f0504a" />
<line x1="1697.95" y1="242.79" x2="1697.95" y2="264.25" stroke="#a8cde9" stroke-width="1.9" />
<rect x="1695.57" y="246.60" width="4.75" height="13.10" fill="#26a387" />
<line x1="1705.18" y1="242.07" x2="1705.18" y2="276.47" stroke="#f2b1bd" stroke-width="1.9" />
<rect x="1702.80" y="246.60" width="4.75" height="24.70" fill="#f0504a" />
<line x1="1712.40" y1="268.15" x2="1712.40" y2="283.20" stroke="#f2b1bd" stroke-width="1.9" />
<rect x="1710.03" y="271.30" width="4.75" height="10.90" fill="#f0504a" />
<line x1="1719.62" y1="275.47" x2="1719.62" y2="305.04" stroke="#f2b1bd" stroke-width="1.9" />
<rect x="1717.25" y="282.20" width="4.75" height="16.80" fill="#f0504a" />
<line x1="1726.85" y1="289.72" x2="1726.85" y2="302.58" stroke="#a8cde9" stroke-width="1.9" />
<rect x="1724.47" y="293.00" width="4.75" height="6.00" fill="#26a387" />
<line x1="1734.08" y1="286.79" x2="1734.08" y2="294.94" stroke="#a8cde9" stroke-width="1.9" />
<rect x="1731.70" y="291.70" width="4.75" height="2.20" fill="#26a387" />
<line x1="1741.30" y1="275.61" x2="1741.30" y2="294.57" stroke="#a8cde9" stroke-width="1.9" />
<rect x="1738.92" y="281.50" width="4.75" height="11.50" fill="#26a387" />
<polyline points="0.0,418.3 188.2,418.3 195.8,410.5 250.0,409.3 310.0,408.8 318.2,390.8 332.0,387.5 383.8,387.5 394.8,391.9 405.5,414.8 446.2,415.6 458.8,429.1 672.5,429.1 680.0,419.8 699.2,415.2 708.5,404.4 737.5,404.4 745.8,401.3 796.2,401.3 804.0,398.2 827.5,398.2 836.0,394.0 844.5,375.5 868.0,375.5 877.8,382.0 888.8,399.4 1101.2,399.7 1109.0,397.3 1213.8,397.3 1225.0,376.6 1237.0,369.5 1314.2,369.5 1322.0,360.2 1352.5,360.2 1362.5,342.6 1383.8,341.7 1393.8,318.8 1406.8,313.2 1432.5,313.2 1435.5,290.0 1444.5,256.6 1456.2,250.0 1494.8,250.0 1501.8,277.2 1699.0,277.2 1710.0,309.9 1748.8,309.9" fill="none" stroke="#3fa556" stroke-width="1.85" stroke-linejoin="round" />
<polyline points="0.0,358.0 50.0,358.0 65.0,361.1 106.5,361.1 115.8,375.0 179.2,375.0 193.0,363.6 310.0,362.6 318.2,353.7 332.0,352.6 383.8,352.6 397.5,355.9 405.8,367.3 445.0,367.3 458.0,382.0 474.5,382.7 490.8,388.5 525.0,389.0 537.2,393.6 664.5,393.6 676.2,385.8 695.5,376.6 708.5,358.6 741.8,358.6 753.5,356.5 823.2,356.5 836.5,351.0 846.5,344.0 872.0,344.0 889.0,355.0 900.0,359.6 1047.5,359.6 1065.0,364.2 1167.5,364.2 1183.0,348.8 1213.8,348.8 1225.8,307.0 1235.0,304.7 1254.2,304.0 1267.0,297.0 1274.5,292.0 1308.2,291.0 1321.0,287.0 1343.8,286.5 1356.0,278.0 1362.5,274.7 1378.2,273.6 1394.2,261.4 1407.0,252.5 1413.2,250.0 1431.2,249.0 1438.5,228.6 1450.0,222.7 1465.0,215.0 1503.0,215.0 1510.0,151.2 1696.8,151.2 1710.0,166.0 1724.0,168.7 1734.2,181.0 1741.0,191.9 1748.0,191.9" fill="none" stroke="#8f27a6" stroke-width="1.85" stroke-linejoin="round" />
<polyline points="0.0,297.4 52.5,297.4 65.8,304.6 108.0,304.6 117.5,331.2 177.5,331.2 187.5,317.0 397.5,317.3 410.0,318.8 440.0,318.8 456.0,334.9 475.0,334.9 490.8,347.2 521.8,347.2 537.2,358.6 664.5,358.6 672.5,347.0 683.8,347.0 695.0,342.6 708.5,311.7 916.0,311.7 929.2,319.4 1047.5,319.4 1065.0,330.8 1171.2,330.8 1186.8,299.3 1216.0,299.3 1221.5,280.0 1226.2,246.0 1232.5,238.5 1255.0,238.5 1264.0,224.8 1273.5,223.3 1282.5,213.8 1344.0,213.8 1353.5,205.6 1396.2,205.6 1405.0,202.0 1409.0,202.0 1414.5,188.0 1459.2,188.0 1468.0,180.6 1503.2,180.6 1510.0,25.6 1720.8,25.6 1727.5,30.5 1734.2,45.5 1739.8,64.6 1741.0,76.0 1748.0,76.0" fill="none" stroke="#f2362c" stroke-width="1.85" stroke-linejoin="round" />
<polyline points="0.1,372.1 7.3,372.1 7.3,375.4 14.5,375.4 14.5,378.7 21.8,378.7 21.8,382.0 29.0,382.0 29.0,384.1 36.2,384.1 36.2,386.0 43.4,386.0 43.4,387.8 50.7,387.8 50.7,389.7 57.9,389.7 57.9,389.8 65.1,389.8 65.1,388.4 72.3,388.4 72.3,387.1 79.6,387.1 79.6,386.8 86.8,386.8 86.8,386.8 94.0,386.8 94.0,386.8 101.2,386.8 101.2,385.9 108.5,385.9 108.5,384.6 115.7,384.6 115.7,383.2 122.9,383.2 122.9,381.9 130.1,381.9 130.1,380.4 137.4,380.4 137.4,378.7 144.6,378.7 144.6,376.9 151.8,376.9 151.8,375.2 159.0,375.2 159.0,373.4 166.2,373.4 166.2,368.7 173.5,368.7 173.5,363.9 180.7,363.9 180.7,359.5 187.9,359.5 187.9,355.8 195.2,355.8 195.2,352.0 202.4,352.0 202.4,348.5 209.6,348.5 209.6,346.4 216.8,346.4 216.8,344.3 224.1,344.3 224.1,342.2 231.3,342.2 231.3,340.9 238.5,340.9 238.5,340.7 245.7,340.7 245.7,340.5 253.0,340.5 253.0,340.6 260.2,340.6 260.2,341.7 267.4,341.7 267.4,342.9 274.6,342.9 274.6,345.3 281.9,345.3 281.9,347.7 289.1,347.7 289.1,350.0 296.3,350.0 296.3,351.5 303.5,351.5 303.5,353.0 310.8,353.0 310.8,354.6 318.0,354.6 318.0,355.8 325.2,355.8 325.2,356.8 332.4,356.8 332.4,357.9 339.6,357.9 339.7,359.0 346.9,359.0 346.9,360.2 354.1,360.2 354.1,361.6 361.3,361.6 361.3,363.0 368.5,363.0 368.6,364.6 375.8,364.6 375.8,366.5 383.0,366.5 383.0,368.4 390.2,368.4 390.2,370.4 397.4,370.4 397.5,372.8 404.7,372.8 404.7,378.0 411.9,378.0 411.9,382.3 419.1,382.3 419.1,386.4 426.3,386.4 426.4,389.3 433.6,389.3 433.6,392.2 440.8,392.2 440.8,395.4 448.0,395.4 448.0,398.8 455.2,398.8 455.3,402.3 462.5,402.3 462.5,404.0 469.7,404.0 469.7,405.5 476.9,405.5 476.9,407.0 484.1,407.0 484.1,404.6 491.4,404.6 491.4,401.1 498.6,401.1 498.6,398.2 505.8,398.2 505.8,395.7 513.0,395.7 513.0,393.5 520.3,393.5 520.3,391.9 527.5,391.9 527.5,391.7 534.7,391.7 534.7,391.5 542.0,391.5 542.0,391.0 549.2,391.0 549.2,390.3 556.4,390.3 556.4,389.7 563.6,389.7 563.6,389.1 570.9,389.1 570.9,388.4 578.1,388.4 578.1,388.3 585.3,388.3 585.3,388.3 592.5,388.3 592.5,388.3 599.8,388.3 599.8,388.3 607.0,388.3 607.0,388.3 614.2,388.3 614.2,387.4 621.4,387.4 621.4,385.6 628.6,385.6 628.6,383.6 635.9,383.6 635.9,381.4 643.1,381.4 643.1,379.2 650.3,379.2 650.3,377.3 657.5,377.3 657.5,375.4 664.8,375.4 664.8,373.5 672.0,373.5 672.0,370.0 679.2,370.0 679.2,366.4 686.4,366.4 686.4,362.1 693.7,362.1 693.7,357.7 700.9,357.7 700.9,353.9 708.1,353.9 708.1,350.4 715.3,350.4 715.3,347.4 722.6,347.4 722.6,344.9 729.8,344.9 729.8,342.4 737.0,342.4 737.0,340.7 744.2,340.7 744.2,340.0 751.5,340.0 751.5,339.9 758.7,339.9 758.7,341.6 765.9,341.6 765.9,343.3 773.1,343.3 773.1,344.5 780.4,344.5 780.4,345.3 787.6,345.3 787.6,346.0 794.8,346.0 794.8,346.4 802.0,346.4 802.0,345.5 809.3,345.5 809.3,344.7 816.5,344.7 816.5,343.9 823.7,343.9 823.7,343.1 831.0,343.1 831.0,342.2 838.2,342.2 838.2,342.1 845.4,342.1 845.4,342.9 852.6,342.9 852.6,343.6 859.9,343.6 859.9,343.8 867.1,343.8 867.1,344.5 874.3,344.5 874.3,349.6 881.5,349.6 881.5,355.0 888.8,355.0 888.8,360.9 896.0,360.9 896.0,365.3 903.2,365.3 903.2,368.5 910.4,368.5 910.4,369.3 917.6,369.3 917.6,368.5 924.9,368.5 924.9,367.1 932.1,367.1 932.1,365.7 939.3,365.7 939.3,364.6 946.5,364.6 946.5,363.4 953.8,363.4 953.8,364.0 961.0,364.0 961.0,367.4 968.2,367.4 968.2,369.3 975.4,369.3 975.5,370.8 982.7,370.8 982.7,372.1 989.9,372.1 989.9,373.5 997.1,373.5 997.1,374.8 1004.3,374.8 1004.4,374.3 1011.6,374.3 1011.6,371.0 1018.8,371.0 1018.8,367.4 1026.0,367.4 1026.0,363.8 1033.2,363.8 1033.2,361.2 1040.5,361.2 1040.5,359.0 1047.7,359.0 1047.7,357.7 1054.9,357.7 1054.9,357.1 1062.1,357.1 1062.2,356.6 1069.4,356.6 1069.4,356.3 1076.6,356.3 1076.6,356.1 1083.8,356.1 1083.8,356.0 1091.0,356.0 1091.0,355.4 1098.3,355.4 1098.3,354.6 1105.5,354.6 1105.5,353.8 1112.7,353.8 1112.7,353.0 1119.9,353.0 1120.0,352.3 1127.2,352.3 1127.2,351.5 1134.4,351.5 1134.4,350.6 1141.6,350.6 1141.6,349.2 1148.8,349.2 1148.9,347.9 1156.1,347.9 1156.1,345.7 1163.3,345.7 1163.3,342.8 1170.5,342.8 1170.5,339.3 1177.8,339.3 1177.8,335.0 1185.0,335.0 1185.0,331.1 1192.2,331.1 1192.2,328.2 1199.4,328.2 1199.4,325.4 1206.6,325.4 1206.6,322.4 1213.9,322.4 1213.9,319.4 1221.1,319.4 1221.1,307.5 1228.3,307.5 1228.3,300.8 1235.5,300.8 1235.5,294.3 1242.8,294.3 1242.8,287.4 1250.0,287.4 1250.0,280.6 1257.2,280.6 1257.2,273.5 1264.4,273.5 1264.4,264.0 1271.7,264.0 1271.7,259.1 1278.9,259.1 1278.9,254.1 1286.1,254.1 1286.1,250.5 1293.4,250.5 1293.4,247.0 1300.6,247.0 1300.6,243.8 1307.8,243.8 1307.8,241.4 1315.0,241.4 1315.0,239.0 1322.2,239.0 1322.2,236.6 1329.5,236.6 1329.5,235.1 1336.7,235.1 1336.7,233.7 1343.9,233.7 1343.9,232.3 1351.2,232.3 1351.2,231.2 1358.4,231.2 1358.4,230.3 1365.6,230.3 1365.6,229.4 1372.8,229.4 1372.8,228.4 1380.0,228.4 1380.0,227.4 1387.3,227.4 1387.3,226.4 1394.5,226.4 1394.5,224.6 1401.7,224.6 1401.7,222.0 1408.9,222.0 1409.0,221.4 1416.2,221.4 1416.2,222.4 1423.4,222.4 1423.4,224.0 1430.6,224.0 1430.6,223.7 1437.8,223.7 1437.8,223.4 1445.1,223.4 1445.1,220.1 1452.3,220.1 1452.3,216.4 1459.5,216.4 1459.5,212.0 1466.7,212.0 1466.8,210.0 1474.0,210.0 1474.0,208.9 1481.2,208.9 1481.2,209.8 1488.4,209.8 1488.4,212.7 1495.7,212.7 1495.7,215.6 1502.9,215.6 1502.9,215.6 1510.1,215.6 1510.1,169.7 1517.3,169.7 1517.3,156.9 1524.5,156.9 1524.6,152.4 1531.8,152.4 1531.8,148.6 1539.0,148.6 1539.0,144.3 1546.2,144.3 1546.2,139.8 1553.5,139.8 1553.5,135.5 1560.7,135.5 1560.7,133.3 1567.9,133.3 1567.9,131.2 1575.1,131.2 1575.1,130.1 1582.3,130.1 1582.4,128.9 1589.6,128.9 1589.6,129.4 1596.8,129.4 1596.8,133.1 1604.0,133.1 1604.0,140.6 1611.2,140.6 1611.2,149.0 1618.5,149.0 1618.5,159.1 1625.7,159.1 1625.7,168.8 1632.9,168.8 1632.9,182.3 1640.1,182.3 1640.1,190.4 1647.4,190.4 1647.4,197.2 1654.6,197.2 1654.6,206.8 1661.8,206.8 1661.8,214.7 1669.0,214.7 1669.0,221.6 1676.3,221.6 1676.3,227.4 1683.5,227.4 1683.5,231.0 1690.7,231.0 1690.7,234.7 1697.9,234.7 1697.9,239.3 1705.2,239.3 1705.2,245.0 1712.4,245.0 1712.4,250.8 1719.6,250.8 1719.6,255.7 1726.8,255.7 1726.8,260.5 1734.1,260.5 1734.1,264.4 1741.3,264.4 1741.3,268.0 1748.5,268.0" fill="none" stroke="#1d4da6" stroke-width="1.35" stroke-linejoin="round" stroke-linejoin="miter"/>
<rect x="1307.00" y="242.60" width="557.50" height="3.60" fill="#e6b595" stroke="#80543a" stroke-width="1.1"/>
<line x1="1508.75" y1="25.80" x2="2079.00" y2="25.80" stroke="#8c8c8c" stroke-width="1.9" opacity="0.88"/>
<text x="2082.50" y="28.40" font-size="7.6" fill="#8c8c8c" textLength="61.25" lengthAdjust="spacingAndGlyphs" stroke="#8c8c8c" stroke-width="0.2">100.00%(1.35152)</text>
<line x1="1508.75" y1="134.60" x2="2079.00" y2="134.60" stroke="#4cc690" stroke-width="1.9" opacity="0.88"/>
<text x="2082.50" y="137.20" font-size="7.6" fill="#4cc690" textLength="61.25" lengthAdjust="spacingAndGlyphs" stroke="#4cc690" stroke-width="0.2">61.80%(1.33139)</text>
<line x1="1508.75" y1="167.70" x2="2079.00" y2="167.70" stroke="#2fb24a" stroke-width="1.9" opacity="0.88"/>
<text x="2082.50" y="170.30" font-size="7.6" fill="#2fb24a" textLength="61.25" lengthAdjust="spacingAndGlyphs" stroke="#2fb24a" stroke-width="0.2">50.00%(1.32517)</text>
<line x1="1508.75" y1="202.00" x2="2079.00" y2="202.00" stroke="#2c9fa3" stroke-width="1.9" opacity="0.88"/>
<text x="2082.50" y="204.60" font-size="7.6" fill="#2c9fa3" textLength="61.25" lengthAdjust="spacingAndGlyphs" stroke="#2c9fa3" stroke-width="0.2">38.20%(1.31895)</text>
<line x1="1508.75" y1="225.10" x2="2079.00" y2="225.10" stroke="#f2453c" stroke-width="1.9" opacity="0.88"/>
<text x="2082.50" y="227.70" font-size="7.6" fill="#f2453c" textLength="61.25" lengthAdjust="spacingAndGlyphs" stroke="#f2453c" stroke-width="0.2">30.00%(1.31463)</text>
<line x1="1508.75" y1="243.90" x2="2079.00" y2="243.90" stroke="#f2382e" stroke-width="1.9" opacity="0.88"/>
<text x="2082.50" y="246.50" font-size="7.6" fill="#f2382e" textLength="61.25" lengthAdjust="spacingAndGlyphs" stroke="#f2382e" stroke-width="0.2">23.60%(1.31126)</text>
<line x1="1510.50" y1="26.50" x2="2079.00" y2="310.50" stroke="#a9a9a9" stroke-width="1.1" stroke-dasharray="6 6"/>
<polygon points="1812.0,373.6 1721.2,289.0 1819.0,370.8" fill="#86ea8e" stroke="#1c4a24" stroke-width="1.4" stroke-linejoin="round"/>
<rect x="1811.50" y="370.70" width="74.50" height="21.60" rx="6.50" ry="3" fill="#86ea8e" stroke="#1c4a24" stroke-width="1.5"/>
<polygon points="1812.0,373.6 1766.6,331.3 1770.1,329.9 1819.0,370.8" fill="#86ea8e" />
<text x="1817.50" y="384.30" font-size="8.2" fill="#2a7f3a" textLength="62.50" lengthAdjust="spacingAndGlyphs" stroke="#2a7f3a" stroke-width="0.2">Bull contraction</text>
<line x1="1816.25" y1="377.00" x2="1881.25" y2="377.00" stroke="#2a7a3a" stroke-width="0.6" stroke-dasharray="4 3"/>
<line x1="1816.25" y1="386.00" x2="1881.25" y2="386.00" stroke="#2a7a3a" stroke-width="0.6" stroke-dasharray="4 3"/>
<rect x="1748.50" y="167.70" width="361.50" height="114.00" fill="rgba(76,175,80,0.3)" />
<rect x="1748.50" y="281.70" width="361.50" height="53.60" fill="rgba(244,67,54,0.27)" />
<line x1="1748.50" y1="281.80" x2="2110.00" y2="281.80" stroke="#3f6070" stroke-width="1.2" />
<rect x="1748.50" y="244.20" width="115.25" height="2.00" fill="#e3b48e" />
<line x1="1748.50" y1="243.50" x2="1863.75" y2="243.50" stroke="#8f6a4c" stroke-width="2" />
<line x1="1863.75" y1="243.60" x2="2079.00" y2="243.60" stroke="#8f6a4c" stroke-width="1.7" />
<line x1="1748.50" y1="246.40" x2="1863.75" y2="246.40" stroke="#5a4a3a" stroke-width="0.8" />
<line x1="0.00" y1="297.40" x2="2293.00" y2="297.40" stroke="#111" stroke-width="1.65" />
<line x1="1510.00" y1="310.50" x2="2079.00" y2="310.50" stroke="#111" stroke-width="1.5" />
<line x1="426.50" y1="429.80" x2="2293.00" y2="289.60" stroke="#000" stroke-width="2.15" stroke-linecap="round"/>
<line x1="1639.25" y1="251.00" x2="1733.75" y2="303.50" stroke="#111" stroke-width="2.7" />
<line x1="1704.00" y1="245.50" x2="1733.75" y2="303.00" stroke="#222" stroke-width="1.8" />
<text x="2082.50" y="313.10" font-size="7.6" fill="#666" textLength="55.00" lengthAdjust="spacingAndGlyphs" >0.00%(1.29882)</text>
<polygon points="1429.0,150.5 1508.5,167.7 1421.2,156.2" fill="#a6d7a2" stroke="#3a3a30" stroke-width="1.4" stroke-linejoin="round"/>
<rect x="1344.00" y="134.20" width="86.00" height="22.40" rx="6.50" ry="3" fill="#a6d7a2" stroke="#3a3a30" stroke-width="1.5"/>
<polygon points="1429.0,150.5 1468.8,159.1 1464.9,161.9 1421.2,156.2" fill="#a6d7a2" />
<text x="1351.50" y="147.80" font-size="8.2" fill="#444" textLength="72.50" lengthAdjust="spacingAndGlyphs" stroke="#444" stroke-width="0.2">Good profit target</text>
<polygon points="1937.2,327.6 1860.8,245.8 1945.5,324.9" fill="#f5a96d" stroke="#4a2f14" stroke-width="1.4" stroke-linejoin="round"/>
<rect x="1937.00" y="324.80" width="156.50" height="22.40" rx="6.50" ry="3" fill="url(#og)" stroke="#4a2f14" stroke-width="1.5"/>
<polygon points="1937.2,327.6 1899.0,286.7 1903.1,285.4 1945.5,324.9" fill="#f5a96d" />
<text x="1944.50" y="339.20" font-size="8.2" fill="#a03232" textLength="141.50" lengthAdjust="spacingAndGlyphs" stroke="#a03232" stroke-width="0.2">Resistance lines up with 23.6% fib!</text>
<line x1="1509.50" y1="29.00" x2="1784.00" y2="337.00" stroke="#1c3fa5" stroke-width="2.2" />
<rect x="0.00" y="469.00" width="2293.00" height="48.70" fill="#f4e8fd" />
<line x1="0.00" y1="469.00" x2="2293.00" y2="469.00" stroke="#f0565c" stroke-width="1.8" />
<line x1="0.00" y1="517.70" x2="2293.00" y2="517.70" stroke="#2aa198" stroke-width="1.8" />
<polyline points="0.0,501.8 6.5,502.7 16.0,507.6 29.5,504.0 43.0,506.5 51.0,502.2 58.0,499.0 65.5,491.5 72.5,492.0 80.5,494.0 85.8,493.6 94.0,502.2 102.0,490.4 108.2,484.6 118.0,489.4 128.8,489.8 136.8,485.0 143.8,483.6 151.8,488.5 161.0,479.7 171.8,472.6 181.2,466.8 187.8,466.2 194.2,470.7 202.8,474.3 212.0,470.7 217.2,469.4 224.2,471.1 231.8,479.7 238.8,483.6 246.8,484.6 258.5,483.6 268.2,491.5 274.8,494.7 281.8,501.2 289.8,509.7 297.8,507.6 303.0,508.0 310.0,499.7 317.5,502.7 324.5,509.7 332.5,504.0 340.8,503.3 351.5,500.7 360.5,498.0 369.0,512.5 375.5,513.4 383.5,515.5 389.0,515.8 397.0,502.2 405.0,521.1 412.0,516.6 429.2,516.2 437.2,517.3 448.0,519.0 456.0,527.3 462.5,526.9 469.5,515.1 476.5,510.8 482.8,508.2 491.0,480.3 500.0,486.1 506.5,487.2 520.5,484.6 528.0,494.7 534.8,494.7 541.8,487.6 549.2,492.1 558.0,490.4 569.8,489.8 578.8,495.8 585.8,495.8 594.0,491.1 600.2,492.6 606.2,500.7 614.2,490.4 620.8,495.4 628.8,480.8 642.2,478.6 650.2,483.6 657.2,484.4 671.8,472.8 678.8,478.2 687.8,472.2 694.2,470.7 701.2,462.5 708.2,463.6 714.5,462.1 722.8,472.2 731.8,471.5 738.8,470.0 745.8,473.9 752.2,480.3 760.2,486.8 766.8,487.6 773.5,496.4 781.8,496.9 789.8,494.3 796.2,498.0 803.0,488.9 811.2,487.6 817.5,485.7 823.5,485.1 838.0,472.2 846.0,500.1 853.0,499.4 859.5,493.6 867.5,491.9 874.5,508.2 882.0,514.0 889.0,518.8 894.2,518.3 903.5,508.2 910.5,507.6 918.5,497.3 925.0,496.9 933.5,493.6 942.5,489.8 948.0,488.9 955.0,493.2 962.5,502.7 968.2,506.5 974.8,503.3 982.8,500.5 991.0,505.5 996.2,507.2 1000.0,503.7 1010.8,491.5 1017.2,491.1 1025.8,479.7 1033.2,476.1 1040.2,474.3 1047.2,474.3 1055.2,486.1 1063.2,489.4 1069.8,487.6 1076.8,487.2 1083.2,484.6 1091.2,496.9 1097.8,498.4 1105.8,482.3 1112.8,483.6 1120.8,489.8 1127.2,488.7 1134.0,490.9 1142.2,484.4 1149.2,482.9 1156.8,480.8 1163.8,484.0 1170.5,480.8 1178.8,467.5 1185.0,465.8 1191.5,464.0 1199.5,471.5 1205.5,470.5 1213.5,473.9 1220.0,461.5 1228.0,456.7 1236.0,458.7 1244.0,457.2 1251.0,456.1 1257.5,455.7 1264.0,453.9 1271.0,455.0 1279.0,451.8 1289.8,452.9 1299.2,453.9 1307.5,471.5 1313.8,469.6 1322.0,469.4 1328.8,470.0 1337.0,466.8 1343.2,466.4 1351.5,464.0 1358.2,465.1 1364.8,467.9 1372.8,476.9 1381.0,471.8 1387.2,472.6 1394.2,470.7 1408.8,463.2 1415.8,478.6 1423.8,491.1 1430.8,490.0 1437.2,488.9 1444.2,478.2 1450.8,477.6 1457.5,471.8 1465.8,464.0 1472.0,470.0 1480.2,481.8 1488.2,492.6 1495.5,505.5 1503.0,482.9 1509.8,457.2 1518.0,460.4 1524.2,469.0 1531.2,481.8 1538.2,483.6 1544.8,482.9 1552.8,479.3 1559.2,476.9 1567.8,484.4 1574.2,484.0 1580.8,485.7 1587.8,485.1 1595.8,492.6 1602.2,492.1 1609.0,502.2 1615.5,507.6 1622.5,509.7 1630.5,510.2 1638.8,513.0 1646.8,510.8 1653.0,510.8 1661.8,514.5 1668.2,514.0 1676.2,514.5 1684.2,512.5 1690.8,512.3 1697.8,507.6 1704.5,513.0 1713.8,517.3 1720.2,519.8 1727.2,517.3 1733.5,516.8 1741.8,510.8 1748.5,509.3" fill="none" stroke="#1a1a2e" stroke-width="1.5" stroke-linejoin="round" />
<polygon points="1811.5,498.6 1748.2,513.9 1818.0,505.3" fill="#ee9a8b" stroke="#2f2350" stroke-width="1.4" stroke-linejoin="round"/>
<rect x="1811.25" y="483.70" width="148.00" height="21.80" rx="6.50" ry="3" fill="#ee9a8b" stroke="#2f2350" stroke-width="1.5"/>
<polygon points="1811.5,498.6 1779.9,506.2 1783.1,509.6 1818.0,505.3" fill="#ee9a8b" />
<text x="1818.25" y="496.60" font-size="8.2" fill="#7d3f36" textLength="134.50" lengthAdjust="spacingAndGlyphs" stroke="#7d3f36" stroke-width="0.2">RSI coming out of over sold zone</text>
<line x1="0.00" y1="447.30" x2="2330.00" y2="447.30" stroke="#8f8f9c" stroke-width="1.2" />
<line x1="0.00" y1="532.20" x2="2330.00" y2="532.20" stroke="#9a9aa6" stroke-width="1.3" />
<line x1="2292.50" y1="0.00" x2="2292.50" y2="550.00" stroke="#dadae6" stroke-width="3.2" />
<line x1="2294.50" y1="7.10" x2="2297.50" y2="7.10" stroke="#888" stroke-width="0.7" />
<text x="2299.00" y="9.40" font-size="6.6" fill="#6b7284" textLength="25.50" lengthAdjust="spacingAndGlyphs" >1.35500</text>
<line x1="2294.50" y1="34.10" x2="2297.50" y2="34.10" stroke="#888" stroke-width="0.7" />
<text x="2299.00" y="36.40" font-size="6.6" fill="#6b7284" textLength="25.50" lengthAdjust="spacingAndGlyphs" >1.35000</text>
<line x1="2294.50" y1="61.20" x2="2297.50" y2="61.20" stroke="#888" stroke-width="0.7" />
<text x="2299.00" y="63.50" font-size="6.6" fill="#6b7284" textLength="25.50" lengthAdjust="spacingAndGlyphs" >1.34500</text>
<line x1="2294.50" y1="88.20" x2="2297.50" y2="88.20" stroke="#888" stroke-width="0.7" />
<text x="2299.00" y="90.50" font-size="6.6" fill="#6b7284" textLength="25.50" lengthAdjust="spacingAndGlyphs" >1.34000</text>
<line x1="2294.50" y1="115.20" x2="2297.50" y2="115.20" stroke="#888" stroke-width="0.7" />
<text x="2299.00" y="117.50" font-size="6.6" fill="#6b7284" textLength="25.50" lengthAdjust="spacingAndGlyphs" >1.33500</text>
<line x1="2294.50" y1="142.20" x2="2297.50" y2="142.20" stroke="#888" stroke-width="0.7" />
<text x="2299.00" y="144.50" font-size="6.6" fill="#6b7284" textLength="25.50" lengthAdjust="spacingAndGlyphs" >1.33000</text>
<line x1="2294.50" y1="196.30" x2="2297.50" y2="196.30" stroke="#888" stroke-width="0.7" />
<text x="2299.00" y="198.60" font-size="6.6" fill="#6b7284" textLength="25.50" lengthAdjust="spacingAndGlyphs" >1.32000</text>
<line x1="2294.50" y1="223.30" x2="2297.50" y2="223.30" stroke="#888" stroke-width="0.7" />
<text x="2299.00" y="225.60" font-size="6.6" fill="#6b7284" textLength="25.50" lengthAdjust="spacingAndGlyphs" >1.31500</text>
<line x1="2294.50" y1="250.40" x2="2297.50" y2="250.40" stroke="#888" stroke-width="0.7" />
<text x="2299.00" y="252.70" font-size="6.6" fill="#6b7284" textLength="25.50" lengthAdjust="spacingAndGlyphs" >1.31000</text>
<line x1="2294.50" y1="358.50" x2="2297.50" y2="358.50" stroke="#888" stroke-width="0.7" />
<text x="2299.00" y="360.80" font-size="6.6" fill="#6b7284" textLength="25.50" lengthAdjust="spacingAndGlyphs" >1.29000</text>
<line x1="2294.50" y1="385.50" x2="2297.50" y2="385.50" stroke="#888" stroke-width="0.7" />
<text x="2299.00" y="387.80" font-size="6.6" fill="#6b7284" textLength="25.50" lengthAdjust="spacingAndGlyphs" >1.28500</text>
<line x1="2294.50" y1="412.50" x2="2297.50" y2="412.50" stroke="#888" stroke-width="0.7" />
<text x="2299.00" y="414.80" font-size="6.6" fill="#6b7284" textLength="25.50" lengthAdjust="spacingAndGlyphs" >1.28000</text>
<line x1="2294.50" y1="439.60" x2="2297.50" y2="439.60" stroke="#888" stroke-width="0.7" />
<text x="2299.00" y="441.90" font-size="6.6" fill="#6b7284" textLength="25.50" lengthAdjust="spacingAndGlyphs" >1.27500</text>
<line x1="2294.50" y1="456.60" x2="2297.50" y2="456.60" stroke="#888" stroke-width="0.7" />
<text x="2299.00" y="458.90" font-size="6.6" fill="#6b7284" textLength="20.00" lengthAdjust="spacingAndGlyphs" >80.00</text>
<line x1="2294.50" y1="481.30" x2="2297.50" y2="481.30" stroke="#888" stroke-width="0.7" />
<text x="2299.00" y="483.60" font-size="6.6" fill="#6b7284" textLength="20.00" lengthAdjust="spacingAndGlyphs" >60.00</text>
<line x1="2294.50" y1="506.00" x2="2297.50" y2="506.00" stroke="#888" stroke-width="0.7" />
<text x="2299.00" y="508.30" font-size="6.6" fill="#6b7284" textLength="20.00" lengthAdjust="spacingAndGlyphs" >40.00</text>
<line x1="2294.50" y1="530.20" x2="2297.50" y2="530.20" stroke="#888" stroke-width="0.7" />
<text x="2299.00" y="532.50" font-size="6.6" fill="#6b7284" textLength="20.00" lengthAdjust="spacingAndGlyphs" >20.00</text>
<rect x="2293.00" y="162.40" width="37.00" height="10.00" fill="#1e8a3c" />
<text x="2299.00" y="169.90" font-size="7.2" fill="#fff" textLength="25.50" lengthAdjust="spacingAndGlyphs" stroke="#fff" stroke-width="0.25">1.32504</text>
<line x1="2293.00" y1="167.40" x2="2296.25" y2="167.40" stroke="#e8f4f2" stroke-width="0.8" />
<rect x="2293.00" y="275.00" width="37.00" height="12.10" fill="#22a68a" />
<text x="2299.00" y="283.55" font-size="7.2" fill="#fff" textLength="25.50" lengthAdjust="spacingAndGlyphs" stroke="#fff" stroke-width="0.25">1.30429</text>
<line x1="2293.00" y1="281.05" x2="2296.25" y2="281.05" stroke="#e8f4f2" stroke-width="0.8" />
<rect x="2293.00" y="287.10" width="37.00" height="11.70" fill="#22a68a" />
<text x="2299.00" y="295.45" font-size="7.2" fill="#fff" textLength="25.50" lengthAdjust="spacingAndGlyphs" stroke="#fff" stroke-width="0.25">03:12:04</text>
<line x1="2293.00" y1="292.95" x2="2296.25" y2="292.95" stroke="#e8f4f2" stroke-width="0.8" />
<line x1="2293.00" y1="287.10" x2="2330.00" y2="287.10" stroke="#7fd0bf" stroke-width="0.6" />
<rect x="2293.00" y="298.80" width="37.00" height="11.20" fill="#5c5952" />
<text x="2299.00" y="306.90" font-size="7.2" fill="#fff" textLength="25.50" lengthAdjust="spacingAndGlyphs" stroke="#fff" stroke-width="0.25">1.30433</text>
<line x1="2293.00" y1="304.40" x2="2296.25" y2="304.40" stroke="#e8f4f2" stroke-width="0.8" />
<rect x="2293.00" y="310.00" width="37.00" height="11.40" fill="#000" />
<text x="2299.00" y="318.20" font-size="7.2" fill="#fff" textLength="25.50" lengthAdjust="spacingAndGlyphs" stroke="#fff" stroke-width="0.25">1.30128</text>
<line x1="2293.00" y1="315.70" x2="2296.25" y2="315.70" stroke="#e8f4f2" stroke-width="0.8" />
<rect x="2293.00" y="330.00" width="37.00" height="11.00" fill="#ef1f1f" />
<text x="2299.00" y="338.00" font-size="7.2" fill="#fff" textLength="25.50" lengthAdjust="spacingAndGlyphs" stroke="#fff" stroke-width="0.25">1.29427</text>
<line x1="2293.00" y1="335.50" x2="2296.25" y2="335.50" stroke="#e8f4f2" stroke-width="0.8" />
<line x1="44.00" y1="532.60" x2="44.00" y2="534.80" stroke="#aaa" stroke-width="1.4" />
<text x="39.50" y="544.80" font-size="7.5" fill="#5f677c" textLength="9.00" lengthAdjust="spacingAndGlyphs" >28</text>
<line x1="131.00" y1="532.60" x2="131.00" y2="534.80" stroke="#aaa" stroke-width="1.4" />
<text x="126.50" y="544.80" font-size="7.5" fill="#5f677c" textLength="9.00" lengthAdjust="spacingAndGlyphs" >30</text>
<line x1="217.50" y1="532.60" x2="217.50" y2="534.80" stroke="#aaa" stroke-width="1.4" />
<text x="210.75" y="544.80" font-size="7.5" fill="#5f677c" textLength="13.50" lengthAdjust="spacingAndGlyphs" >Nov</text>
<line x1="303.00" y1="532.60" x2="303.00" y2="534.80" stroke="#aaa" stroke-width="1.4" />
<text x="300.75" y="544.80" font-size="7.5" fill="#5f677c" textLength="4.50" lengthAdjust="spacingAndGlyphs" >5</text>
<line x1="390.50" y1="532.60" x2="390.50" y2="534.80" stroke="#aaa" stroke-width="1.4" />
<text x="388.25" y="544.80" font-size="7.5" fill="#5f677c" textLength="4.50" lengthAdjust="spacingAndGlyphs" >7</text>
<line x1="476.50" y1="532.60" x2="476.50" y2="534.80" stroke="#aaa" stroke-width="1.4" />
<text x="472.00" y="544.80" font-size="7.5" fill="#5f677c" textLength="9.00" lengthAdjust="spacingAndGlyphs" >11</text>
<line x1="563.25" y1="532.60" x2="563.25" y2="534.80" stroke="#aaa" stroke-width="1.4" />
<text x="558.75" y="544.80" font-size="7.5" fill="#5f677c" textLength="9.00" lengthAdjust="spacingAndGlyphs" >13</text>
<line x1="628.75" y1="532.60" x2="628.75" y2="534.80" stroke="#aaa" stroke-width="1.4" />
<text x="618.75" y="544.80" font-size="7.5" fill="#5f677c" textLength="20.00" lengthAdjust="spacingAndGlyphs" >14:00</text>
<line x1="694.25" y1="532.60" x2="694.25" y2="534.80" stroke="#aaa" stroke-width="1.4" />
<text x="689.75" y="544.80" font-size="7.5" fill="#5f677c" textLength="9.00" lengthAdjust="spacingAndGlyphs" >18</text>
<line x1="780.50" y1="532.60" x2="780.50" y2="534.80" stroke="#aaa" stroke-width="1.4" />
<text x="776.00" y="544.80" font-size="7.5" fill="#5f677c" textLength="9.00" lengthAdjust="spacingAndGlyphs" >20</text>
<line x1="846.00" y1="532.60" x2="846.00" y2="534.80" stroke="#aaa" stroke-width="1.4" />
<text x="836.00" y="544.80" font-size="7.5" fill="#5f677c" textLength="20.00" lengthAdjust="spacingAndGlyphs" >14:00</text>
<line x1="911.50" y1="532.60" x2="911.50" y2="534.80" stroke="#aaa" stroke-width="1.4" />
<text x="907.00" y="544.80" font-size="7.5" fill="#5f677c" textLength="9.00" lengthAdjust="spacingAndGlyphs" >25</text>
<line x1="999.00" y1="532.60" x2="999.00" y2="534.80" stroke="#aaa" stroke-width="1.4" />
<text x="994.50" y="544.80" font-size="7.5" fill="#5f677c" textLength="9.00" lengthAdjust="spacingAndGlyphs" >27</text>
<line x1="1063.25" y1="532.60" x2="1063.25" y2="534.80" stroke="#aaa" stroke-width="1.4" />
<text x="1053.25" y="544.80" font-size="7.5" fill="#5f677c" textLength="20.00" lengthAdjust="spacingAndGlyphs" >14:00</text>
<line x1="1120.75" y1="532.60" x2="1120.75" y2="534.80" stroke="#aaa" stroke-width="1.4" />
<text x="1114.00" y="544.80" font-size="7.5" fill="#5f677c" textLength="13.50" lengthAdjust="spacingAndGlyphs" >Dec</text>
<line x1="1170.75" y1="532.60" x2="1170.75" y2="534.80" stroke="#aaa" stroke-width="1.4" />
<text x="1168.50" y="544.80" font-size="7.5" fill="#5f677c" textLength="4.50" lengthAdjust="spacingAndGlyphs" >3</text>
<line x1="1257.50" y1="532.60" x2="1257.50" y2="534.80" stroke="#aaa" stroke-width="1.4" />
<text x="1255.25" y="544.80" font-size="7.5" fill="#5f677c" textLength="4.50" lengthAdjust="spacingAndGlyphs" >5</text>
<line x1="1343.50" y1="532.60" x2="1343.50" y2="534.80" stroke="#aaa" stroke-width="1.4" />
<text x="1341.25" y="544.80" font-size="7.5" fill="#5f677c" textLength="4.50" lengthAdjust="spacingAndGlyphs" >9</text>
<line x1="1430.75" y1="532.60" x2="1430.75" y2="534.80" stroke="#aaa" stroke-width="1.4" />
<text x="1426.25" y="544.80" font-size="7.5" fill="#5f677c" textLength="9.00" lengthAdjust="spacingAndGlyphs" >11</text>
<line x1="1496.00" y1="532.60" x2="1496.00" y2="534.80" stroke="#aaa" stroke-width="1.4" />
<text x="1486.00" y="544.80" font-size="7.5" fill="#5f677c" textLength="20.00" lengthAdjust="spacingAndGlyphs" >14:00</text>
<line x1="1560.75" y1="532.60" x2="1560.75" y2="534.80" stroke="#aaa" stroke-width="1.4" />
<text x="1556.25" y="544.80" font-size="7.5" fill="#5f677c" textLength="9.00" lengthAdjust="spacingAndGlyphs" >16</text>
<line x1="1647.50" y1="532.60" x2="1647.50" y2="534.80" stroke="#aaa" stroke-width="1.4" />
<text x="1643.00" y="544.80" font-size="7.5" fill="#5f677c" textLength="9.00" lengthAdjust="spacingAndGlyphs" >18</text>
<line x1="1713.00" y1="532.60" x2="1713.00" y2="534.80" stroke="#aaa" stroke-width="1.4" />
<text x="1703.00" y="544.80" font-size="7.5" fill="#5f677c" textLength="20.00" lengthAdjust="spacingAndGlyphs" >14:00</text>
<line x1="1778.00" y1="532.60" x2="1778.00" y2="534.80" stroke="#aaa" stroke-width="1.4" />
<text x="1773.50" y="544.80" font-size="7.5" fill="#5f677c" textLength="9.00" lengthAdjust="spacingAndGlyphs" >23</text>
<line x1="1864.50" y1="532.60" x2="1864.50" y2="534.80" stroke="#aaa" stroke-width="1.4" />
<text x="1860.00" y="544.80" font-size="7.5" fill="#5f677c" textLength="9.00" lengthAdjust="spacingAndGlyphs" >25</text>
<line x1="1929.50" y1="532.60" x2="1929.50" y2="534.80" stroke="#aaa" stroke-width="1.4" />
<text x="1919.50" y="544.80" font-size="7.5" fill="#5f677c" textLength="20.00" lengthAdjust="spacingAndGlyphs" >14:00</text>
<line x1="1994.00" y1="532.60" x2="1994.00" y2="534.80" stroke="#aaa" stroke-width="1.4" />
<text x="1989.50" y="544.80" font-size="7.5" fill="#5f677c" textLength="9.00" lengthAdjust="spacingAndGlyphs" >30</text>
<line x1="2081.25" y1="532.60" x2="2081.25" y2="534.80" stroke="#aaa" stroke-width="1.4" />
<text x="2072.25" y="544.80" font-size="7.5" fill="#5f677c" textLength="18.00" lengthAdjust="spacingAndGlyphs" >2020</text>
<line x1="2145.75" y1="532.60" x2="2145.75" y2="534.80" stroke="#aaa" stroke-width="1.4" />
<text x="2135.75" y="544.80" font-size="7.5" fill="#5f677c" textLength="20.00" lengthAdjust="spacingAndGlyphs" >14:00</text>
<line x1="2210.50" y1="532.60" x2="2210.50" y2="534.80" stroke="#aaa" stroke-width="1.4" />
<text x="2208.25" y="544.80" font-size="7.5" fill="#5f677c" textLength="4.50" lengthAdjust="spacingAndGlyphs" >6</text>
<text x="5.00" y="13.90" font-size="8.4" fill="#465069" textLength="150.00" lengthAdjust="spacingAndGlyphs" stroke="#465069" stroke-width="0.3">British Pound / U.S. Dollar, 240, FXCM</text>
<text x="5.00" y="25.50" font-size="8.2" fill="#535a70" textLength="58.50" lengthAdjust="spacingAndGlyphs" stroke="#535a70" stroke-width="0.15">EMA (13, close)</text>
<text x="5.00" y="36.60" font-size="8.2" fill="#535a70" textLength="27.50" lengthAdjust="spacingAndGlyphs" stroke="#535a70" stroke-width="0.15">DC (30)</text>
<text x="5.00" y="462.20" font-size="8.2" fill="#535a70" textLength="53.00" lengthAdjust="spacingAndGlyphs" stroke="#535a70" stroke-width="0.15">RSI (13, close)</text>
</g>
</svg>
</body></html>
